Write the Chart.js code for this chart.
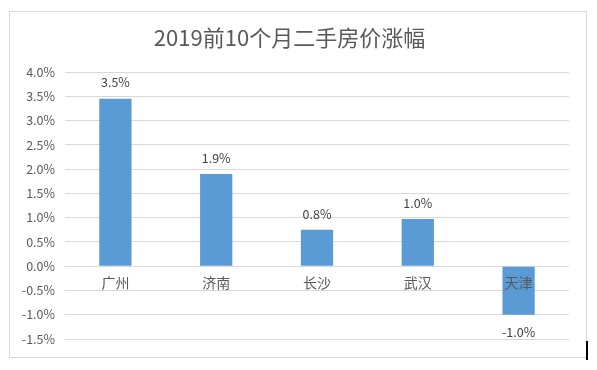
<!DOCTYPE html>
<html><head><meta charset="utf-8">
<script src="https://cdn.jsdelivr.net/npm/chart.js@4"></script>
<style>
html,body{margin:0;padding:0;background:#fff;}
#box{position:absolute;left:9px;top:11px;width:576px;height:345px;border:1px solid #d9d9d9;}
#cur{position:absolute;left:586px;top:341px;width:2px;height:19px;background:#000;}
</style></head>
<body>
<div id="box"><canvas id="c" width="576" height="345"></canvas></div>
<div id="cur"></div>
<script>
const categories = ['广州','济南','长沙','武汉','天津'];
const values = [3.45, 1.90, 0.75, 0.97, -1.00];
const yTicks = [-1.5,-1.0,-0.5,0.0,0.5,1.0,1.5,2.0,2.5,3.0,3.5,4.0];
const titleText = '2019前10个月二手房价涨幅';

const CJK = '"Noto Sans CJK SC", "Microsoft YaHei", sans-serif';

const labelPlugin = {
  id: 'vlabels',
  afterDatasetsDraw(chart) {
    const ctx = chart.ctx;
    const meta = chart.getDatasetMeta(0);
    ctx.save();
    ctx.font = '12.5px ' + CJK;
    ctx.fillStyle = '#404040';
    ctx.textAlign = 'center';
    ctx.textBaseline = 'middle';
    meta.data.forEach((bar, i) => {
      const v = values[i];
      const txt = (Math.round(v * 10) / 10).toFixed(1) + '%';
      const y = v >= 0 ? bar.y - 16 : bar.y + 18;
      ctx.fillText(txt, bar.x, y);
    });
    ctx.restore();
  }
};

new Chart(document.getElementById('c'), {
  type: 'bar',
  data: {
    labels: categories,
    datasets: [{
      data: values,
      backgroundColor: '#5b9bd5',
      borderWidth: 0,
      categoryPercentage: 1.0,
      barPercentage: 0.32
    }]
  },
  options: {
    responsive: false,
    animation: false,
    layout: { padding: { left: 0, right: 17, top: 0, bottom: 18 } },
    plugins: {
      legend: { display: false },
      tooltip: { enabled: false },
      title: {
        display: true,
        text: titleText,
        color: '#595959',
        font: { family: CJK, size: 22, weight: 'normal' },
        padding: { top: 12, bottom: 21.6 }
      }
    },
    scales: {
      x: {
        position: { y: 0 },
        grid: { display: false, drawTicks: false },
        border: { display: false },
        ticks: { z: 1, autoSkip: false, color: '#595959', font: { family: CJK, size: 14 }, padding: 8, maxRotation: 0 }
      },
      y: {
        min: -1.5, max: 4.0,
        afterBuildTicks(scale) { scale.ticks = yTicks.map(v => ({ value: v })); },
        afterFit(scale) { scale.width = 55; },
        grid: { color: '#d9d9d9', drawTicks: false, lineWidth: 1 },
        border: { display: false },
        ticks: {
          color: '#595959',
          padding: 10,
          font: { family: CJK, size: 12.5 },
          callback: v => v.toFixed(1) + '%'
        }
      }
    }
  },
  plugins: [labelPlugin]
});
</script>
</body></html>
